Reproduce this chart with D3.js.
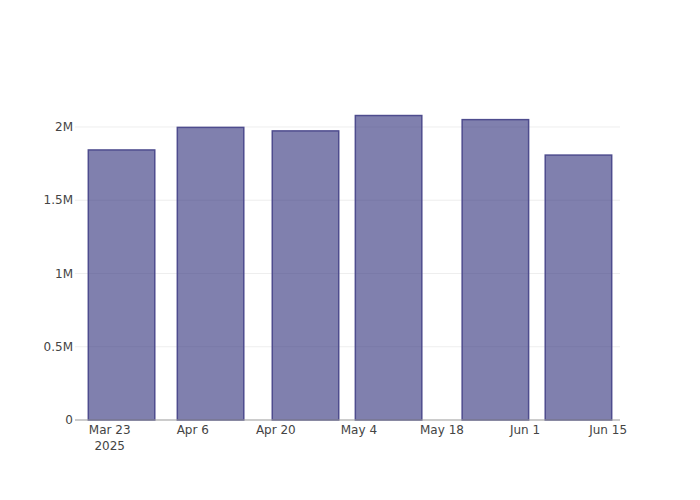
<!DOCTYPE html>
<html><head><meta charset="utf-8">
<script src="https://cdn.jsdelivr.net/npm/d3@7"></script>
<style>body{margin:0;background:#fff}</style>
</head><body>
<svg id="chart" width="700" height="500"></svg>
<script>
const dates = ["2025-03-25","2025-04-09","2025-04-25","2025-05-09","2025-05-27","2025-06-10"];
const values = [1843000, 1997000, 1973000, 2078000, 2050000, 1808000];
const xTickDates = ["2025-03-23","2025-04-06","2025-04-20","2025-05-04","2025-05-18","2025-06-01","2025-06-15"];
const xTickLabels = ["Mar 23","Apr 6","Apr 20","May 4","May 18","Jun 1","Jun 15"];
const yTicks = [0, 500000, 1000000, 1500000, 2000000];
const yTickLabels = ["0","0.5M","1M","1.5M","2M"];

const W = 700, H = 500, m = {l:80, r:80, t:100, b:80};
const svg = d3.select("#chart");
const parse = d3.utcParse("%Y-%m-%d");
const DAY = 86400000;
const barSpan = 14 * DAY;
const d0 = parse(dates[0]), d1 = parse(dates[dates.length-1]);
const x = d3.scaleUtc()
  .domain([new Date(+d0 - barSpan/2), new Date(+d1 + barSpan/2)])
  .range([m.l, W - m.r]);
const y = d3.scaleLinear()
  .domain([0, 2184000])
  .range([H - m.b, m.t]);

const font = "'DejaVu Sans', sans-serif";

// gridlines
svg.append("g").selectAll("line").data(yTicks.slice(1)).join("line")
  .attr("x1", m.l - 5).attr("x2", W - m.r)
  .attr("y1", d => y(d)).attr("y2", d => y(d))
  .attr("stroke", "#eee").attr("stroke-width", 1);

// bars
const bw = barSpan * 0.8;
svg.append("g").selectAll("rect").data(dates.map((d,i)=>({d:parse(d), v:values[i]}))).join("rect")
  .attr("x", d => x(new Date(+d.d - bw/2)))
  .attr("width", d => x(new Date(+d.d + bw/2)) - x(new Date(+d.d - bw/2)))
  .attr("y", d => y(d.v))
  .attr("height", d => y(0) - y(d.v))
  .attr("fill", "rgb(50,50,125)").attr("fill-opacity", 0.62)
  .attr("stroke", "rgb(78,76,142)").attr("stroke-width", 1.5);

// x axis line
svg.append("line").attr("x1", m.l).attr("x2", W - m.r)
  .attr("y1", y(0)).attr("y2", y(0)).attr("stroke", "#999").attr("stroke-width", 1);
svg.append("line").attr("x1", m.l - 5).attr("x2", m.l)
  .attr("y1", y(0)).attr("y2", y(0)).attr("stroke", "#999").attr("stroke-width", 1);

// y labels
svg.append("g").selectAll("text").data(yTicks).join("text")
  .attr("x", m.l - 7).attr("y", d => y(d)).attr("dy", "0.35em")
  .attr("text-anchor", "end").attr("font-family", font).attr("font-size", 12)
  .attr("fill", "#444").text((d,i) => yTickLabels[i]);

// x labels
const xl = svg.append("g").selectAll("text").data(xTickDates).join("text")
  .attr("x", d => x(parse(d))).attr("y", y(0) + 14)
  .attr("text-anchor", "middle").attr("font-family", font).attr("font-size", 12)
  .attr("fill", "#444");
xl.append("tspan").attr("x", d => x(parse(d))).text((d,i) => xTickLabels[i]);
xl.filter((d,i) => i === 0).append("tspan").attr("x", d => x(parse(d))).attr("dy", 15.6).text("2025");
</script>
</body></html>
